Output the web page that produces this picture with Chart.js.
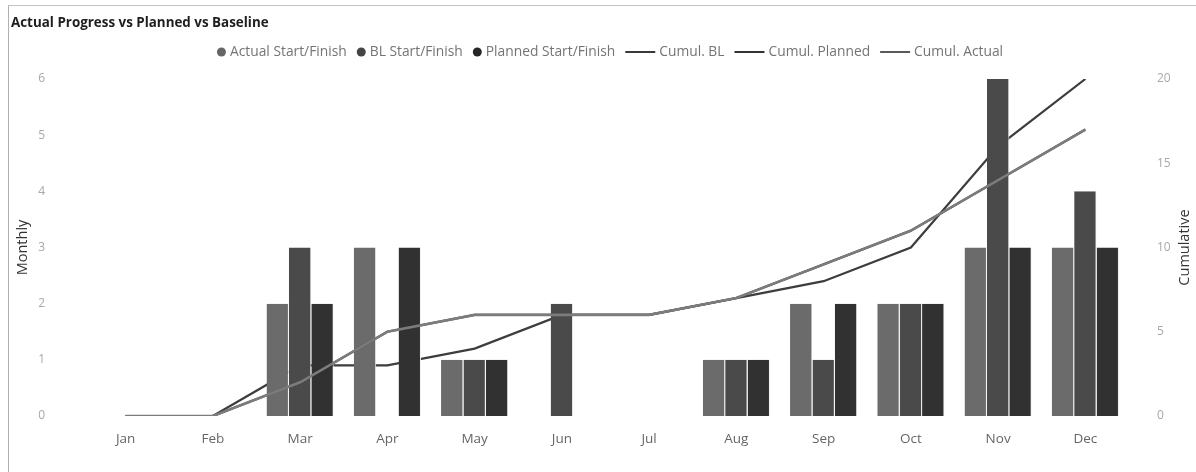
<!DOCTYPE html>
<html><head><meta charset="utf-8">
<script src="https://cdn.jsdelivr.net/npm/chart.js@4.4.0/dist/chart.umd.min.js"></script>
<style>
html,body{margin:0;padding:0;background:#fff;width:1196px;height:472px;overflow:hidden;}
#frame{position:absolute;left:8px;top:5px;width:1188px;height:467px;border-left:1px solid #b0b0b0;border-top:1px solid #c4c4c4;box-sizing:border-box;}
#title{position:absolute;left:11px;top:13px;font:bold 13.4px "Open Sans";color:#1e1e1e;white-space:nowrap;}
#wrap{position:absolute;left:0;top:0;width:1196px;height:472px;}
</style></head><body>
<div id="frame"></div>
<div id="wrap"><canvas id="c" width="1196" height="472"></canvas></div>
<div id="title">Actual Progress vs Planned vs Baseline</div>
<script>
// ---- data ----
const categories = ['Jan','Feb','Mar','Apr','May','Jun','Jul','Aug','Sep','Oct','Nov','Dec'];
const actualMonthly  = [null,null,2,3,1,null,null,1,2,2,3,3];
const blMonthly      = [null,null,3,null,1,2,null,1,1,2,6,4];
const plannedMonthly = [null,null,2,3,1,null,null,1,2,2,3,3];
const cumulBL        = [0,0,3,3,4,6,6,7,8,10,16,20];
const cumulPlanned   = [0,0,2,5,6,6,6,7,9,11,14,17];
const cumulActual    = [0,0,2,5,6,6,6,7,9,11,14,17];
const monthlyTicks   = [0,1,2,3,4,5,6];
const cumulTicks     = [0,5,10,15,20];

const FONT = '"Open Sans", "DejaVu Sans", sans-serif';
Chart.defaults.font.family = FONT;

const legendPlugin = {
  id: 'customLegend',
  afterDraw(chart) {
    const ctx = chart.ctx;
    ctx.save();
    ctx.font = '13.8px ' + FONT;
    ctx.textBaseline = 'middle';
    const items = chart.data.datasets.map(ds => ({
      text: ds.label, color: ds.legendColor,
      kind: ds.type === 'line' ? 'line' : 'circle',
      w: ctx.measureText(ds.label).width
    }));
    const markW = it => it.kind === 'line' ? 30 + 4 : 9 + 4;
    const gap = 10;
    let total = 0;
    items.forEach((it, i) => { total += markW(it) + it.w + (i ? gap : 0); });
    let x = chart.width / 2 + 12 - total / 2;
    const y = 52;
    items.forEach(it => {
      if (it.kind === 'circle') {
        ctx.fillStyle = it.color;
        ctx.beginPath(); ctx.arc(x + 4.5, y, 4.5, 0, Math.PI * 2); ctx.fill();
      } else {
        ctx.strokeStyle = it.color; ctx.lineWidth = 2;
        ctx.beginPath(); ctx.moveTo(x, y); ctx.lineTo(x + 30, y); ctx.stroke();
      }
      x += markW(it);
      ctx.fillStyle = '#747474';
      ctx.textAlign = 'left';
      ctx.fillText(it.text, x, y + 0.5);
      x += it.w + gap;
    });
    // right axis title, reading upward
    const ca = chart.chartArea;
    ctx.save();
    ctx.translate(1185, (ca.top + ca.bottom) / 2);
    ctx.rotate(-Math.PI / 2);
    ctx.font = '14.5px ' + FONT;
    ctx.fillStyle = '#333';
    ctx.textAlign = 'center';
    ctx.textBaseline = 'middle';
    ctx.fillText('Cumulative', 0, 0);
    ctx.restore();
    ctx.restore();
  }
};

const barBorder = {top: 0, right: 1, bottom: 0, left: 0};

new Chart(document.getElementById('c'), {
  type: 'bar',
  data: {
    labels: categories,
    datasets: [
      {type: 'bar', label: 'Actual Start/Finish', data: actualMonthly, backgroundColor: '#6b6b6b', legendColor: '#666666',
       borderColor: '#f2f2f2', borderWidth: barBorder, borderSkipped: false, yAxisID: 'y', order: 2},
      {type: 'bar', label: 'BL Start/Finish', data: blMonthly, backgroundColor: '#4a4a4a', legendColor: '#444444',
       borderColor: '#f2f2f2', borderWidth: barBorder, borderSkipped: false, yAxisID: 'y', order: 2},
      {type: 'bar', label: 'Planned Start/Finish', data: plannedMonthly, backgroundColor: '#313131', legendColor: '#262626',
       borderColor: '#f2f2f2', borderWidth: barBorder, borderSkipped: false, yAxisID: 'y', order: 2},
      {type: 'line', label: 'Cumul. BL', data: cumulBL, borderColor: '#3d3d3d', legendColor: '#3a3a3a',
       borderWidth: 2.2, pointRadius: 0, tension: 0, yAxisID: 'y1', order: 3},
      {type: 'line', label: 'Cumul. Planned', data: cumulPlanned, borderColor: '#333333', legendColor: '#333333',
       borderWidth: 2.2, pointRadius: 0, tension: 0, yAxisID: 'y1', order: 1},
      {type: 'line', label: 'Cumul. Actual', data: cumulActual, borderColor: '#7c7c7c', legendColor: '#5a5a5a',
       borderWidth: 2.6, pointRadius: 0, tension: 0, yAxisID: 'y1', order: 0}
    ]
  },
  options: {
    responsive: false,
    animation: false,
    devicePixelRatio: 1,
    layout: {padding: {left: 14, right: 0, top: 79, bottom: 26}},
    datasets: {bar: {categoryPercentage: 0.77, barPercentage: 1}},
    plugins: {legend: {display: false}, tooltip: {enabled: false}, title: {display: false}},
    scales: {
      x: {
        grid: {display: false, drawTicks: false}, border: {display: false},
        ticks: {color: '#666', font: {size: 13.5}, padding: 15, maxRotation: 0},
        afterFit: s => { s.height = 30; }
      },
      y: {
        position: 'left', min: monthlyTicks[0], max: monthlyTicks[monthlyTicks.length - 1],
        grid: {display: false, drawTicks: false}, border: {display: false},
        afterBuildTicks: s => { s.ticks = monthlyTicks.map(v => ({value: v})); },
        ticks: {color: '#a8a8a8', font: {size: 12}, padding: 37},
        title: {display: true, text: 'Monthly', color: '#333', font: {size: 14.5}, padding: {top: 0, bottom: 0}},
        afterFit: s => { s.width = 68; }
      },
      y1: {
        position: 'right', min: cumulTicks[0], max: cumulTicks[cumulTicks.length - 1],
        grid: {display: false, drawTicks: false}, border: {display: false},
        afterBuildTicks: s => { s.ticks = cumulTicks.map(v => ({value: v})); },
        ticks: {color: '#a8a8a8', font: {size: 12}, padding: 28},
        afterFit: s => { s.width = 67; }
      }
    }
  },
  plugins: [legendPlugin]
});
</script>
</body></html>
